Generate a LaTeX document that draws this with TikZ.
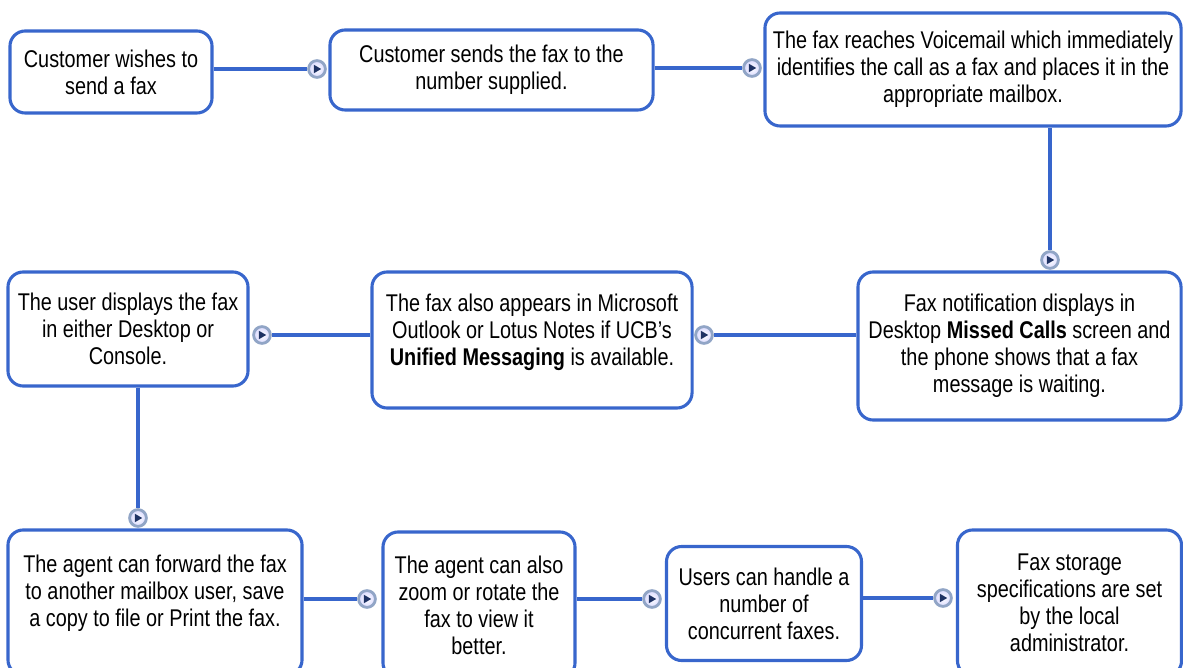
\documentclass[tikz,border=0pt]{standalone}
\usepackage{fontspec}
\setmainfont[FakeStretch=0.82]{Liberation Sans}
\usetikzlibrary{positioning}
\definecolor{flowblue}{RGB}{56,102,204}
\definecolor{dotring}{RGB}{145,165,198}
\definecolor{dotnavy}{RGB}{30,50,100}
\tikzset {
    flow box/.style={
        draw=flowblue,
        line width=2.2pt,
        fill=white,
        rectangle, % rounded step box
        rounded corners=.38cm,
        inner sep=2pt,
        align=center,
        font=\fontsize{17.2}{19.2}\selectfont,
    },
    flow dot/.style={
        circle, % small marker at the end of a link
        draw=dotring,
        line width=2pt,
        inner color=white,
        outer color=blue!15,
        minimum size=.42cm,
        inner sep=0pt,
        path picture={\fill[dotnavy, shift={(path picture bounding box.center)}, rotate=#1]
            (3pt,0pt) -- (-2.2pt,3pt) -- (-2.2pt,-3pt) -- cycle;},
    },
    link/.style={
        draw=flowblue,
        line width=2.2pt,
    },
}
\newcommand{\lowpad}[1]{\rule[-#1]{0pt}{0pt}}

\begin{document}
\begin{tikzpicture}[x=0.025cm, y=-0.025cm]
        \useasboundingbox (0,0) rectangle (1183,668);
        \clip (0,0) rectangle (1183,668);

        % top row
        \node[flow box, minimum width=5.05cm, minimum height=2.05cm] at (111,72) (wish) {Customer wishes to\\send a fax};
        \node[flow box, minimum width=8.075cm, minimum height=2cm] at (491.5,70) (send) {Customer sends the fax to the\\number supplied.};
        \node[flow box, minimum width=10.4cm, minimum height=2.825cm] at (973,69.5) (reach) {The fax reaches Voicemail which immediately\\identifies the call as a fax and places it in the\\appropriate mailbox.};

        % middle row
        \node[flow box, minimum width=8.075cm, minimum height=3.7cm] at (1019.5,346) (notify) {Fax notification displays in\\Desktop \textbf{Missed Calls} screen and\\the phone shows that a fax\\message is waiting.};
        \node[flow box, minimum width=8cm, minimum height=3.4cm] at (532,340) (outlook) {The fax also appears in Microsoft\\Outlook or Lotus Notes if UCB’s\\\textbf{Unified Messaging} is available.\lowpad{0.5cm}};
        \node[flow box, minimum width=6cm, minimum height=2.85cm] at (128,329) (show) {The user displays the fax\\in either Desktop or\\Console.};

        % bottom row
        \node[flow box, minimum width=7.35cm, minimum height=3.625cm] at (155,602.5) (forward) {The agent can forward the fax\\to another mailbox user, save\\a copy to file or Print the fax.\lowpad{0.6cm}};
        \node[flow box, minimum width=4.8cm, minimum height=3.65cm] at (479,605) (zoom) {The agent can also\\zoom or rotate the\\fax to view it\\better.};
        \node[flow box, minimum width=4.875cm, minimum height=2.85cm] at (764,603.5) (handle) {Users can handle a\\number of\\concurrent faxes.};
        \node[flow box, minimum width=5.6cm, minimum height=3.65cm] at (1069.5,603) (store) {Fax storage\\specifications are set\\by the local\\administrator.};

        % link markers
        \node[flow dot=0] at (317,69) (dWS) {};
        \node[flow dot=0] at (752,68) (dSR) {};
        \node[flow dot=-90] at (1050,260) (dRN) {};
        \node[flow dot=180] at (704,335) (dNO) {};
        \node[flow dot=180] at (262,335) (dOS) {};
        \node[flow dot=-90] at (138,518) (dSF) {};
        \node[flow dot=0] at (367,599) (dFZ) {};
        \node[flow dot=0] at (652,599) (dZH) {};
        \node[flow dot=0] at (943,598) (dHS) {};

        \draw[link] (wish.east |- dWS) -- (dWS);
        \draw[link] (send.east |- dSR) -- (dSR);
        \draw[link] (reach.south -| dRN) -- (dRN);
        \draw[link] (notify.west |- dNO) -- (dNO);
        \draw[link] (outlook.west |- dOS) -- (dOS);
        \draw[link] (show.south -| dSF) -- (dSF);
        \draw[link] (forward.east |- dFZ) -- (dFZ);
        \draw[link] (zoom.east |- dZH) -- (dZH);
        \draw[link] (handle.east |- dHS) -- (dHS);
\end{tikzpicture}
\end{document}
